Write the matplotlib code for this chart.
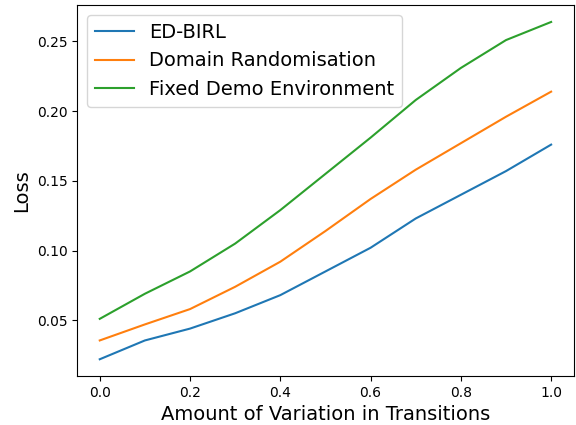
import matplotlib
matplotlib.use("Agg")
from matplotlib import pyplot as plt

variation = [0.0, 0.1, 0.2, 0.3, 0.4, 0.5, 0.6, 0.7, 0.8, 0.9, 1.0]
ed_birl = [0.022, 0.0355, 0.044, 0.055, 0.068, 0.085, 0.102, 0.123, 0.140, 0.157, 0.176]
domain_rand = [0.0355, 0.047, 0.058, 0.074, 0.092, 0.114, 0.137, 0.158, 0.177, 0.196, 0.214]
fixed_demo = [0.051, 0.069, 0.085, 0.105, 0.129, 0.155, 0.181, 0.208, 0.231, 0.251, 0.264]

fig = plt.figure(figsize=(5.76, 4.25), dpi=100)
ax = fig.add_axes([0.134, 0.115, 0.862, 0.873])

ax.plot(variation, ed_birl, label="ED-BIRL")
ax.plot(variation, domain_rand, label="Domain Randomisation")
ax.plot(variation, fixed_demo, label="Fixed Demo Environment")

ax.set_xlabel("Amount of Variation in Transitions", fontsize=14)
ax.set_ylabel("Loss", fontsize=14)
ax.legend(fontsize=14, loc="upper left")

fig.savefig("out.png", dpi=100)
